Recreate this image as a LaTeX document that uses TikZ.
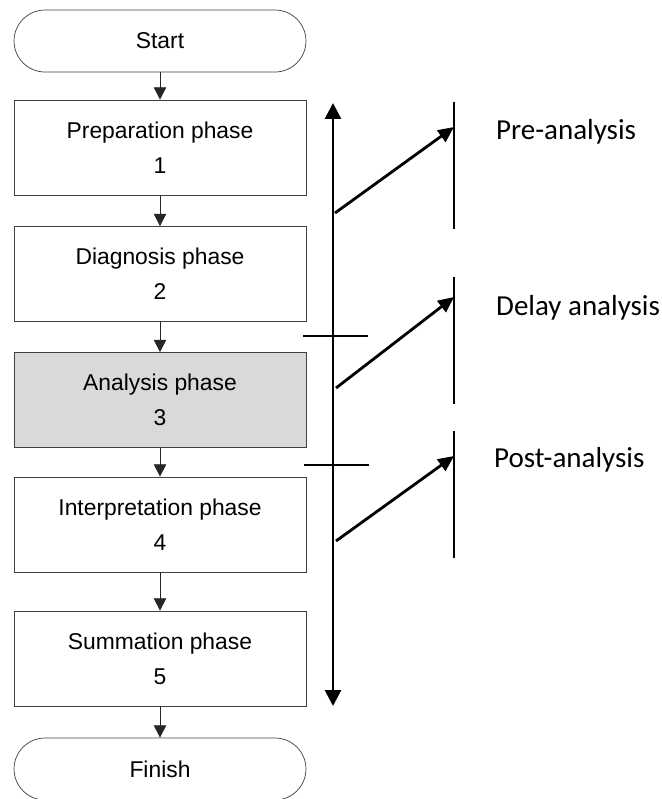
\documentclass[tikz,border=0pt]{standalone}
\usepackage{fontspec}
\setmainfont{Liberation Sans}
\newfontfamily\labelfont{Carlito}
\usetikzlibrary{arrows.meta}

\begin{document}
\begin{tikzpicture}[x=0.02cm,y=-0.02cm]
    \tikzstyle{phase}=[draw=black!75, thin, minimum width=5.84cm, minimum height=1.9cm,
      align=center, font=\fontsize{13}{20}\selectfont]
    \tikzstyle{terminal}=[phase, minimum height=1.24cm, rounded corners=0.62cm]
    \tikzstyle{flow}=[draw=black!85, thin, -{Triangle[width=7pt,length=7pt]}]
    \tikzstyle{axis}=[line width=1.6pt, {Triangle[width=9pt,length=9pt]}-{Triangle[width=9pt,length=9pt]}]
    \tikzstyle{bar}=[line width=1.6pt]
    \tikzstyle{link}=[line width=1.6pt, -{Triangle[width=8pt,length=9pt]}]
    \tikzstyle{tick}=[line width=1.1pt]
    \tikzstyle{label}=[anchor=west, font=\labelfont\fontsize{16.5}{20}\selectfont]
    \useasboundingbox (0,0) rectangle (662,799);

    % the phases
    \node[terminal] (start) at (160,41) {Start};
    \node[phase] (prep) at (160,147.5) {Preparation phase\\1};
    \node[phase] (diag) at (160,274) {Diagnosis phase\\2};
    \node[phase, fill=black!15] (anal) at (160,400) {Analysis phase\\3};
    \node[phase] (interp) at (160,524.5) {Interpretation phase\\4};
    \node[phase] (summ) at (160,658.5) {Summation phase\\5};
    \node[terminal] (finish) at (160,769) {Finish};

    \draw[flow] (start) -- (prep);
    \draw[flow] (prep) -- (diag);
    \draw[flow] (diag) -- (anal);
    \draw[flow] (anal) -- (interp);
    \draw[flow] (interp) -- (summ);
    \draw[flow] (summ) -- (finish);

    % time line and the three stages
    \coordinate (top) at (333,103);
    \coordinate (bot) at (333,706);
    \draw[axis] (top) -- (bot);

    \coordinate (pretop) at (454,102);
    \coordinate (prebot) at (454,229);
    \coordinate (deltop) at (454,277);
    \coordinate (delbot) at (454,404);
    \coordinate (posttop) at (454,431);
    \coordinate (postbot) at (454,558);
    \draw[bar] (pretop) -- (prebot);
    \draw[bar] (deltop) -- (delbot);
    \draw[bar] (posttop) -- (postbot);

    \coordinate (prefrom) at (335,213);
    \coordinate (preto) at (454,127);
    \coordinate (delfrom) at (336,388);
    \coordinate (delto) at (454,297);
    \coordinate (postfrom) at (336,541);
    \coordinate (postto) at (454,456);
    \draw[link] (prefrom) -- (preto);
    \draw[link] (delfrom) -- (delto);
    \draw[link] (postfrom) -- (postto);

    \coordinate (cuta1) at (303,336);
    \coordinate (cuta2) at (368,336);
    \coordinate (cutb1) at (304,465);
    \coordinate (cutb2) at (369,465);
    \draw[tick] (cuta1) -- (cuta2);
    \draw[tick] (cutb1) -- (cutb2);

    \node[label] (pre) at (490,132) {Pre-analysis};
    \node[label] (delay) at (490,308) {Delay analysis};
    \node[label] (post) at (488,460) {Post-analysis};
\end{tikzpicture}
\end{document}
